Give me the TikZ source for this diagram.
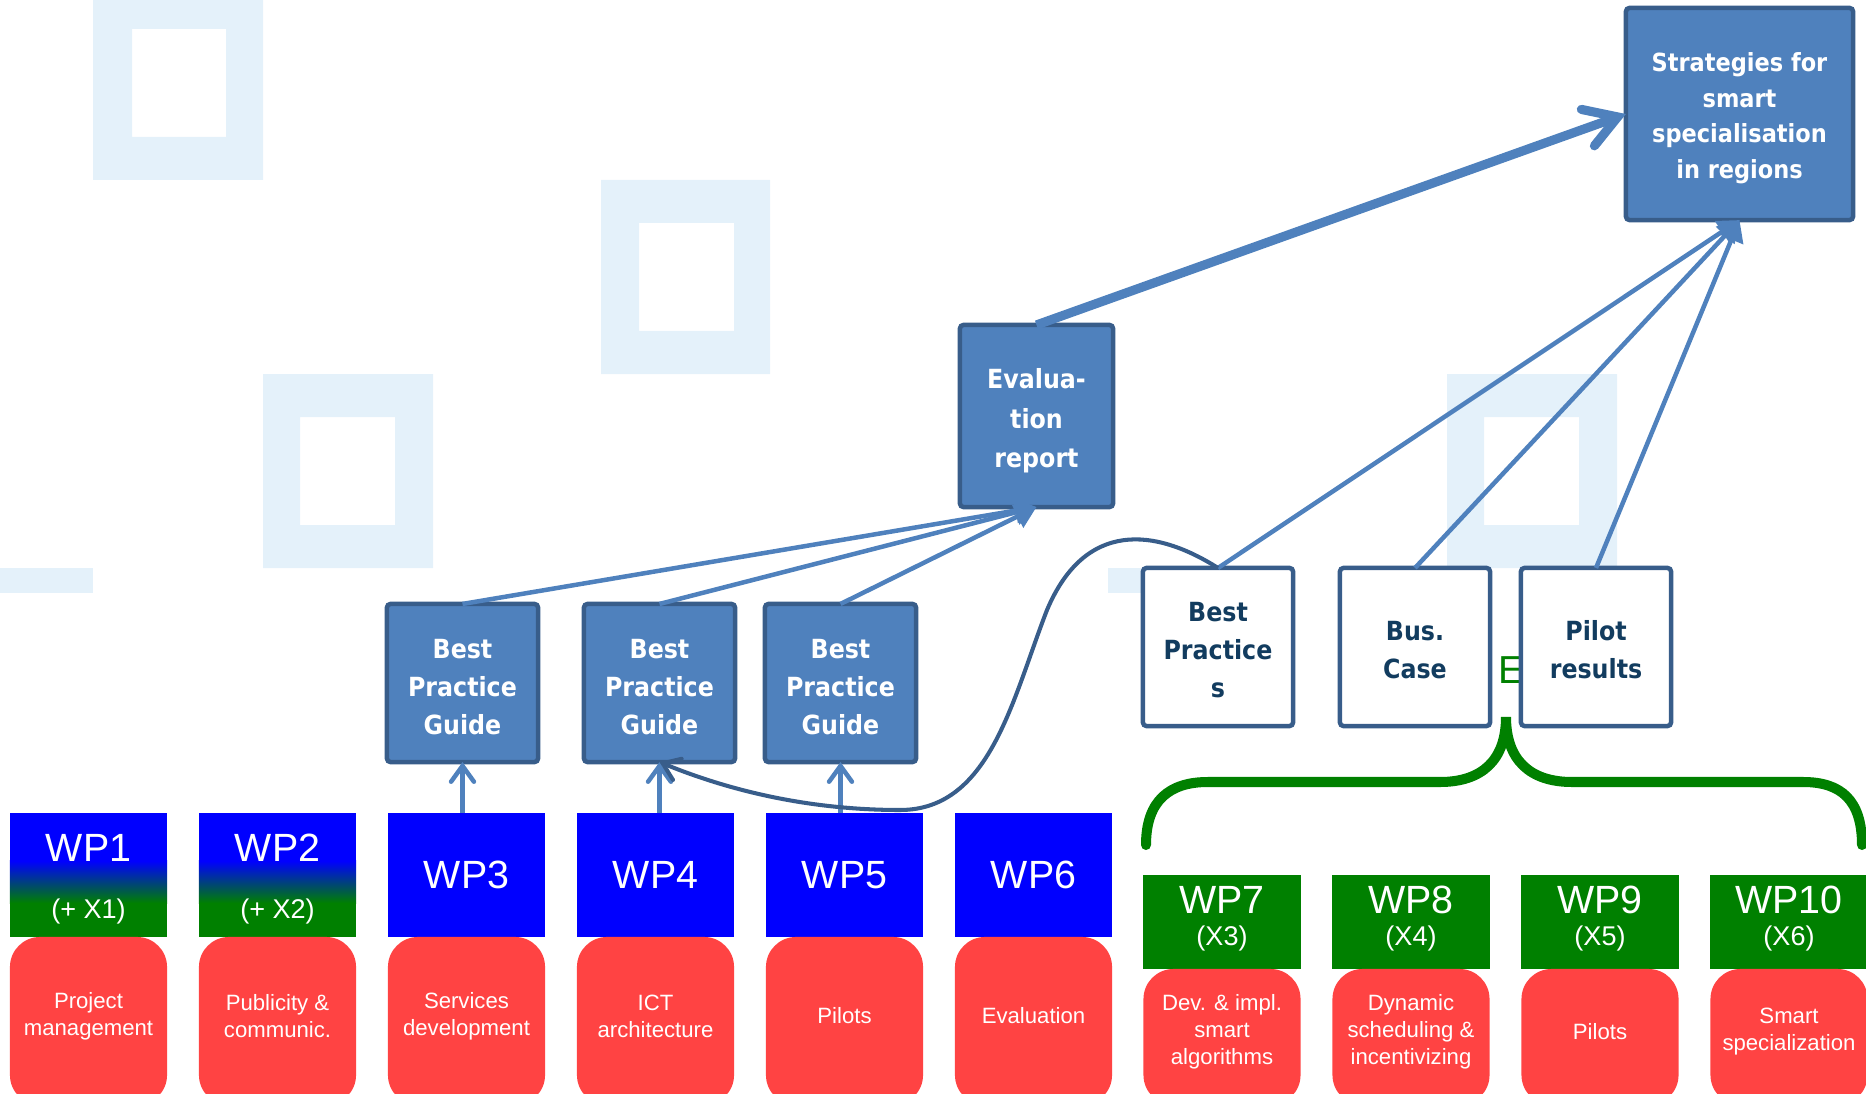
\documentclass[tikz,border=0pt]{standalone}
\usepackage{fontspec}
\setmainfont{Liberation Sans}
\newfontfamily\boxfont{DejaVu Sans Condensed}
\usetikzlibrary{arrows.meta}

\definecolor{wpblue}{RGB}{0,0,255}
\definecolor{wpgreen}{RGB}{0,128,0}
\definecolor{taskred}{RGB}{255,67,67}
\definecolor{boxfill}{RGB}{79,129,189}
\definecolor{boxedge}{RGB}{56,93,138}
\definecolor{linkblue}{RGB}{79,129,189}
\definecolor{darktext}{RGB}{18,60,95}
\definecolor{tile}{RGB}{228,241,250}

\begin{document}
\begin{tikzpicture}[x=0.01cm, y=-0.01cm,
  every node/.style={inner sep=0pt, outer sep=0pt},
  resultbox/.style={draw=boxedge, line width=1.28pt, fill=boxfill, rounded corners=1pt},
  outcomebox/.style={draw=boxedge, line width=1.28pt, fill=white,
    rounded corners=1pt, minimum width=1.50cm, minimum height=1.58cm},
  resulttext/.style={text=white, align=center,
    font=\boxfont\bfseries\fontsize{7.5}{10.8}\selectfont},
  outcometext/.style={resulttext, text=darktext},
  wpbox/.style={fill=wpblue, minimum width=1.57cm, minimum height=1.24cm},
  % shared work package: blue top, blended middle, green bottom
  wpmixbox/.style={fill=wpgreen, minimum width=1.57cm, minimum height=1.24cm,
    path picture={
      \fill[wpblue] (path picture bounding box.north west)
        rectangle ([yshift=-0.48cm]path picture bounding box.north east);
      \shade[top color=wpblue, bottom color=wpgreen]
        ([yshift=-0.48cm]path picture bounding box.north west)
        rectangle ([yshift=0.34cm]path picture bounding box.south east);
    }},
  wpgreenbox/.style={fill=wpgreen, minimum width=1.58cm, minimum height=0.94cm},
  taskbox/.style={fill=taskred, rounded corners=0.3cm, minimum width=1.57cm},
  wptext/.style={text=white, font=\fontsize{11.2}{13}\selectfont},
  subtext/.style={text=white, font=\fontsize{7.7}{9}\selectfont},
  tasktext/.style={text=white, align=center, font=\fontsize{6.3}{7.7}\selectfont},
  link/.style={draw=linkblue, line width=1.28pt},
  headtip/.style={-{Triangle[length=6pt,width=7pt]}},
  barbtip/.style={-{Straight Barb[length=4.5pt,width=6.5pt,line cap=round]}},
]
\useasboundingbox (0,0) rectangle (1866,1094);
\clip (0,0) rectangle (1866,1094);

% background tiles
\fill[tile, even odd rule] (93,0) rectangle (263,180) (132,29) rectangle (226,137);
\fill[tile, even odd rule] (601,180) rectangle (770,374) (639,223) rectangle (734,331);
\fill[tile, even odd rule] (263,374) rectangle (433,568) (300,417) rectangle (395,525);
\fill[tile, even odd rule] (1447,374) rectangle (1617,568) (1484,417) rectangle (1579,525);
\fill[tile] (0,568) rectangle (93,593);
\fill[tile] (1108,568) rectangle (1200,593);

% brace grouping WP7-WP10
\draw[wpgreen, line width=2.85pt, line cap=round]
  (1146,845) .. controls (1146,800) and (1170,782) .. (1208,782) -- (1440,782)
  .. controls (1482,782) and (1506,760) .. (1506,717)
  .. controls (1506,760) and (1530,782) .. (1572,782) -- (1803,782)
  .. controls (1841,782) and (1862,800) .. (1862,845);

% letter partly covered by the pilot results box
\node[text=wpgreen, anchor=base west, font=\fontsize{11.1}{13}\selectfont] (etext) at (1498,683) {E};

% work packages, first row
\node[wpmixbox] (wp1) at (88.5,875) {};
\node[wptext] (wp1a) at (88.5,848) {WP1};
\node[subtext] (wp1b) at (88.5,911) {(+ X1)};
\node[wpmixbox] (wp2) at (277.5,875) {};
\node[wptext] (wp2a) at (277.5,848) {WP2};
\node[subtext] (wp2b) at (277.5,911) {(+ X2)};
\foreach \i/\x in {3/466.5,4/655.5,5/844.5,6/1033.5}
  \node[wpbox, wptext] (wp\i) at (\x,875) {WP\i};

\foreach \i/\x/\t in {1/88.5/{Project\\management}, 2/277.5/{Publicity \&\\communic.},
    3/466.5/{Services\\development}, 4/655.5/{ICT\\architecture},
    5/844.5/{Pilots}, 6/1033.5/{Evaluation}}{
  \node[taskbox, minimum height=1.68cm] (task\i) at (\x,1021) {};
  \node[tasktext] (task\i t) at (\x,1016) {\t};
}

% work packages, second row
\foreach \i/\x/\s in {7/1222/X3, 8/1411/X4, 9/1600/X5, 10/1789/X6}{
  \node[wpgreenbox] (wp\i) at (\x,922) {};
  \node[wptext] (wp\i a) at (\x,900) {WP\i};
  \node[subtext] (wp\i b) at (\x,938) {(\s)};
}
\foreach \i/\x/\t in {7/1222/{Dev. \& impl.\\smart\\algorithms}, 8/1411/{Dynamic\\scheduling \&\\incentivizing},
    9/1600/{Pilots}, 10/1789/{Smart\\specialization}}{
  \node[taskbox, minimum height=1.36cm] (task\i) at (\x,1037) {};
  \node[tasktext] (task\i t) at (\x,1032) {\t};
}

% deliverables
\node[resultbox, minimum width=2.27cm, minimum height=2.12cm] (strat) at (1739.5,114) {};
\node[resulttext, font=\boxfont\bfseries\fontsize{7.1}{10.1}\selectfont] (strattext)
  at ([yshift=-0.04cm]strat.center) {Strategies for\\smart\\specialisation\\in regions};
\node[resultbox, minimum width=1.53cm, minimum height=1.82cm] (eval) at (1036.5,416) {};
\node[resulttext, font=\boxfont\bfseries\fontsize{7.5}{11.2}\selectfont] (evaltext)
  at ([yshift=-0.05cm]eval.center) {Evalua-\\tion\\report};
\foreach \n/\x in {bpga/462.5, bpgb/659.5, bpgc/840.5}{
  \node[resultbox, minimum width=1.51cm, minimum height=1.58cm] (\n) at (\x,683) {};
  \node[resulttext] (\n text) at ([yshift=-0.04cm]\n.center) {Best\\Practice\\Guide};
}

\foreach \n/\x/\t in {bpr/1218/{Best\\Practice\\s}, bus/1415/{Bus.\\Case}, pilot/1596/{Pilot\\results}}{
  \node[outcomebox] (\n) at (\x,647) {};
  \node[outcometext] (\n text) at ([yshift=-0.03cm]\n.center) {\t};
}

% connectors
\foreach \n in {bpga,bpgb,bpgc}
  \draw[link, headtip] (\n.north) -- (eval.south);
\foreach \n in {bpr,bus,pilot}
  \draw[link, headtip] (\n.north) -- (strat.south);
\draw[link, line width=2.6pt, -{Straight Barb[length=9pt,width=11pt,line cap=round]}]
  (eval.north) -- (strat.west);
\foreach \w/\n in {wp3/bpga, wp4/bpgb, wp5/bpgc}
  \draw[link, barbtip] (\n.south |- \w.north) -- (\n.south);
\draw[draw=boxedge, line width=1.15pt, barbtip]
  (bpr.north) .. controls (1155,528) and (1085,520) .. (1047,610)
  .. controls (1012,700) and (990,810) .. (900,810)
  .. controls (820,810) and (740,795) .. (bpgb.south);
\end{tikzpicture}
\end{document}
